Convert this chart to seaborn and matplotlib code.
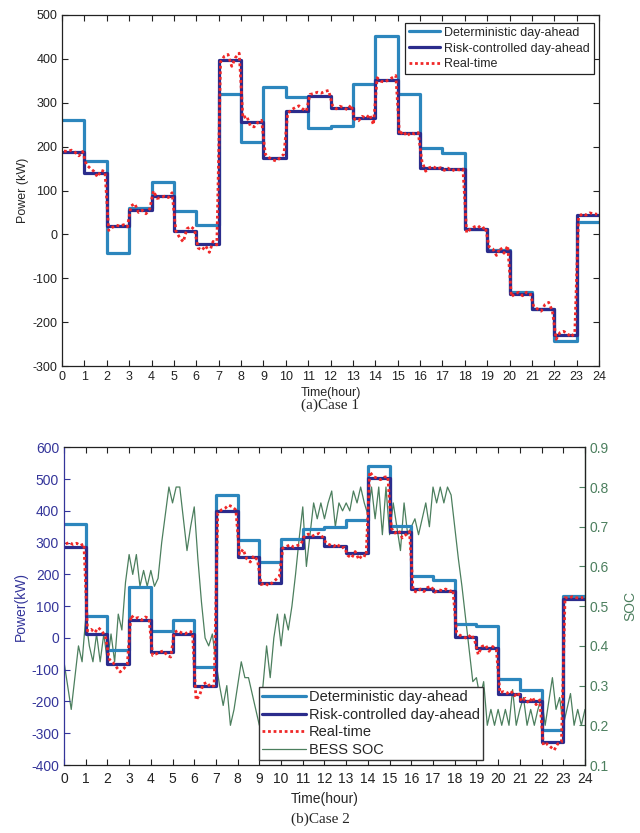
import numpy as np
import matplotlib
matplotlib.use('Agg')
import matplotlib.pyplot as plt
import seaborn as sns

# hourly schedules, kW (one value per hour 0..23)
hours = np.arange(25)
det1 = [260, 168, -42, 61, 119, 54, 21, 320, 211, 337, 314, 242,
        247, 342, 452, 321, 196, 185, 13, -36, -132, -170, -243, 29]
risk1 = [187, 141, 19, 55, 87, 8, -21, 398, 255, 175, 281, 316,
         289, 265, 352, 232, 152, 149, 12, -38, -137, -170, -229, 44]
# real-time, six samples per hour
rt1 = [[190, 189, 192, 187, 179, 189], [159, 151, 144, 131, 146, 143],
       [9, 16, 21, 19, 22, 17], [65, 70, 50, 55, 47, 58],
       [99, 82, 84, 87, 84, 95], [8, -7, -17, 13, 18, 11],
       [-31, -36, -26, -41, -16, -24], [393, 406, 410, 383, 403, 413],
       [265, 270, 247, 245, 255, 260], [183, 175, 170, 167, 175, 183],
       [276, 284, 289, 293, 286, 281], [319, 321, 324, 322, 326, 328],
       [294, 286, 292, 289, 284, 295], [262, 259, 269, 265, 273, 250],
       [357, 349, 347, 352, 357, 362], [227, 235, 224, 232, 229, 232],
       [167, 144, 152, 155, 149, 152], [146, 151, 144, 149, 147, 149],
       [4, 12, 17, 20, 12, 17], [-28, -33, -48, -30, -43, -26],
       [-142, -135, -132, -140, -132, -134], [-165, -170, -175, -160, -155, -175],
       [-239, -224, -221, -226, -234, -224], [39, 47, 44, 49, 47, 46]]

det2 = [358, 70, -39, 161, 23, 56, -92, 450, 309, 238, 313, 342,
        350, 372, 541, 353, 194, 183, 45, 37, -128, -165, -289, 131]
risk2 = [286, 12, -82, 56, -45, 13, -150, 398, 254, 173, 283, 317,
         288, 267, 503, 335, 154, 149, 3, -32, -177, -197, -328, 122]
rt2 = [[296, 301, 294, 298, 291, 296], [22, 27, 17, 32, 22, 2],
       [-67, -77, -92, -107, -97, -82], [71, 61, 64, 56, 66, 61],
       [-55, -50, -45, -40, -55, -60], [18, 23, 16, 13, 21, 18],
       [-195, -180, -145, -140, -155, -150], [393, 403, 408, 418, 413, 403],
       [264, 279, 249, 239, 259, 244], [168, 173, 165, 173, 183, 193],
       [283, 288, 293, 286, 291, 295], [322, 327, 320, 325, 329, 317],
       [298, 293, 288, 296, 283, 285], [259, 252, 272, 247, 262, 257],
       [523, 508, 503, 498, 506, 508], [345, 330, 338, 315, 325, 335],
       [149, 144, 154, 146, 159, 162], [144, 152, 149, 154, 146, 151],
       [18, 8, 3, -2, 11, -7], [-52, -27, -22, -42, -27, -37],
       [-172, -169, -174, -167, -182, -172], [-200, -190, -205, -187, -210, -195],
       [-338, -333, -343, -353, -333, -328], [127, 125, 130, 127, 125, 128]]

# BESS state of charge, six samples per hour plus the end point
soc = [[0.36, 0.30, 0.24, 0.32, 0.40, 0.36], [0.47, 0.40, 0.36, 0.43, 0.36, 0.43],
       [0.36, 0.43, 0.36, 0.48, 0.44, 0.56], [0.63, 0.58, 0.63, 0.55, 0.59, 0.55],
       [0.59, 0.55, 0.57, 0.66, 0.73, 0.80], [0.76, 0.80, 0.80, 0.72, 0.64, 0.70],
       [0.75, 0.62, 0.51, 0.42, 0.40, 0.43], [0.36, 0.30, 0.25, 0.30, 0.20, 0.24],
       [0.30, 0.36, 0.32, 0.32, 0.28, 0.24], [0.20, 0.30, 0.40, 0.32, 0.42, 0.48],
       [0.40, 0.48, 0.44, 0.50, 0.58, 0.67], [0.75, 0.60, 0.68, 0.76, 0.72, 0.76],
       [0.72, 0.76, 0.79, 0.70, 0.76, 0.74], [0.76, 0.74, 0.79, 0.76, 0.80, 0.76],
       [0.73, 0.80, 0.72, 0.80, 0.68, 0.80], [0.68, 0.76, 0.70, 0.64, 0.76, 0.68],
       [0.70, 0.72, 0.68, 0.72, 0.76, 0.70], [0.80, 0.76, 0.80, 0.76, 0.80, 0.78],
       [0.70, 0.62, 0.55, 0.47, 0.39, 0.31], [0.32, 0.27, 0.31, 0.20, 0.24, 0.20],
       [0.24, 0.20, 0.24, 0.20, 0.29, 0.20], [0.24, 0.27, 0.20, 0.24, 0.20, 0.24],
       [0.27, 0.20, 0.26, 0.32, 0.24, 0.27], [0.20, 0.24, 0.28, 0.20, 0.24, 0.20],
       [0.24]]

C_DET = '#2C86BD'
C_RISK = '#2B2C8C'
C_RT = '#F02828'
C_SOC = '#4C7F5E'
C_BLUE = '#34359A'

sns.set_style('ticks')
plt.rcParams['font.family'] = ['Liberation Sans', 'DejaVu Sans']
plt.rcParams['xtick.direction'] = 'in'
plt.rcParams['ytick.direction'] = 'in'
plt.rcParams['axes.unicode_minus'] = False

t_rt = (np.arange(144) + 0.5) / 6
t_soc = np.arange(145) / 6


def draw_case(ax, det, risk, rt, fs):
    sns.lineplot(x=hours, y=det + det[-1:], drawstyle='steps-post', color=C_DET,
                 lw=2.3, ax=ax, label='Deterministic day-ahead')
    sns.lineplot(x=hours, y=risk + risk[-1:], drawstyle='steps-post', color=C_RISK,
                 lw=2.3, ax=ax, label='Risk-controlled day-ahead')
    sns.lineplot(x=t_rt, y=np.ravel(rt), color=C_RT, lw=2.0, ax=ax, label='Real-time')
    ax.lines[-1].set_linestyle((0, (1, 1)))
    ax.set_xlim(0, 24)
    ax.set_xticks(range(25))
    ax.tick_params(top=True, right=True, length=4, labelsize=fs, width=0.8,
                   colors='#222222')
    for s in ax.spines.values():
        s.set_linewidth(0.9)
        s.set_color('#222222')


fig = plt.figure(figsize=(6.4, 8.33), dpi=100)

# (a) Case 1
ax1 = fig.add_axes([0.097, 0.5606, 0.839, 0.4214])
draw_case(ax1, det1, risk1, rt1, 9)
ax1.set_ylim(-300, 500)
ax1.set_yticks(range(-300, 501, 100))
ax1.set_xlabel('Time(hour)', fontsize=9, labelpad=3)
ax1.set_ylabel('Power (kW)', fontsize=9, labelpad=2)
leg = ax1.legend(loc='upper right', bbox_to_anchor=(0.99, 0.977), borderaxespad=0,
                 fontsize=9, handlelength=2.5, handletextpad=0.35, labelspacing=0.3,
                 fancybox=False, framealpha=1, edgecolor='#222222', borderpad=0.3)
leg.get_frame().set_linewidth(0.9)
fig.text(0.516, 0.514, '(a)Case 1', family='Liberation Serif', fontsize=11,
         ha='center', va='center')

# (b) Case 2
ax2 = fig.add_axes([0.1, 0.0816, 0.814, 0.3814])
draw_case(ax2, det2, risk2, rt2, 10)
ax2.set_ylim(-400, 600)
ax2.set_yticks(range(-400, 601, 100))
ax2.tick_params(axis='y', colors=C_BLUE)
ax2.tick_params(axis='x', pad=5)
ax2.spines['left'].set_color(C_BLUE)
ax2.set_xlabel('Time(hour)', fontsize=10, labelpad=4)
ax2.set_ylabel('Power(kW)', fontsize=10, color=C_BLUE, labelpad=2)

ax2b = ax2.twinx()
sns.lineplot(x=t_soc, y=np.concatenate(soc), color=C_SOC, lw=0.9, ax=ax2b,
             label='BESS SOC')
ax2b.set_ylim(0.1, 0.9)
ax2b.set_yticks(np.arange(0.1, 0.91, 0.1))
ax2b.set_yticklabels([f'{v:.1f}' for v in np.arange(0.1, 0.91, 0.1)])
ax2b.tick_params(axis='y', colors=C_SOC, direction='in', length=4, labelsize=10)
ax2b.set_ylabel('SOC', fontsize=10, color=C_SOC, labelpad=10)
for name, s in ax2b.spines.items():
    s.set_visible(name == 'right')
ax2b.spines['right'].set_color(C_SOC)
ax2b.spines['right'].set_linewidth(0.9)
if ax2b.get_legend():
    ax2b.get_legend().remove()

handles = ax2.get_lines()[:3] + ax2b.get_lines()[:1]
leg2 = ax2.legend(handles, [h.get_label() for h in handles], loc='lower left',
                  bbox_to_anchor=(0.374, 0.016), borderaxespad=0, fontsize=10.5,
                  handlelength=3.0, handletextpad=0.25, labelspacing=0.25,
                  fancybox=False, framealpha=1, edgecolor='#333333', borderpad=0.2)
leg2.get_frame().set_linewidth(1.0)
leg2.set_zorder(5)
ax2.set_zorder(ax2b.get_zorder() + 1)
ax2.patch.set_visible(False)
fig.text(0.5, 0.016, '(b)Case 2', family='Liberation Serif', fontsize=11,
         ha='center', va='center')

fig.savefig('out.png', dpi=100)
